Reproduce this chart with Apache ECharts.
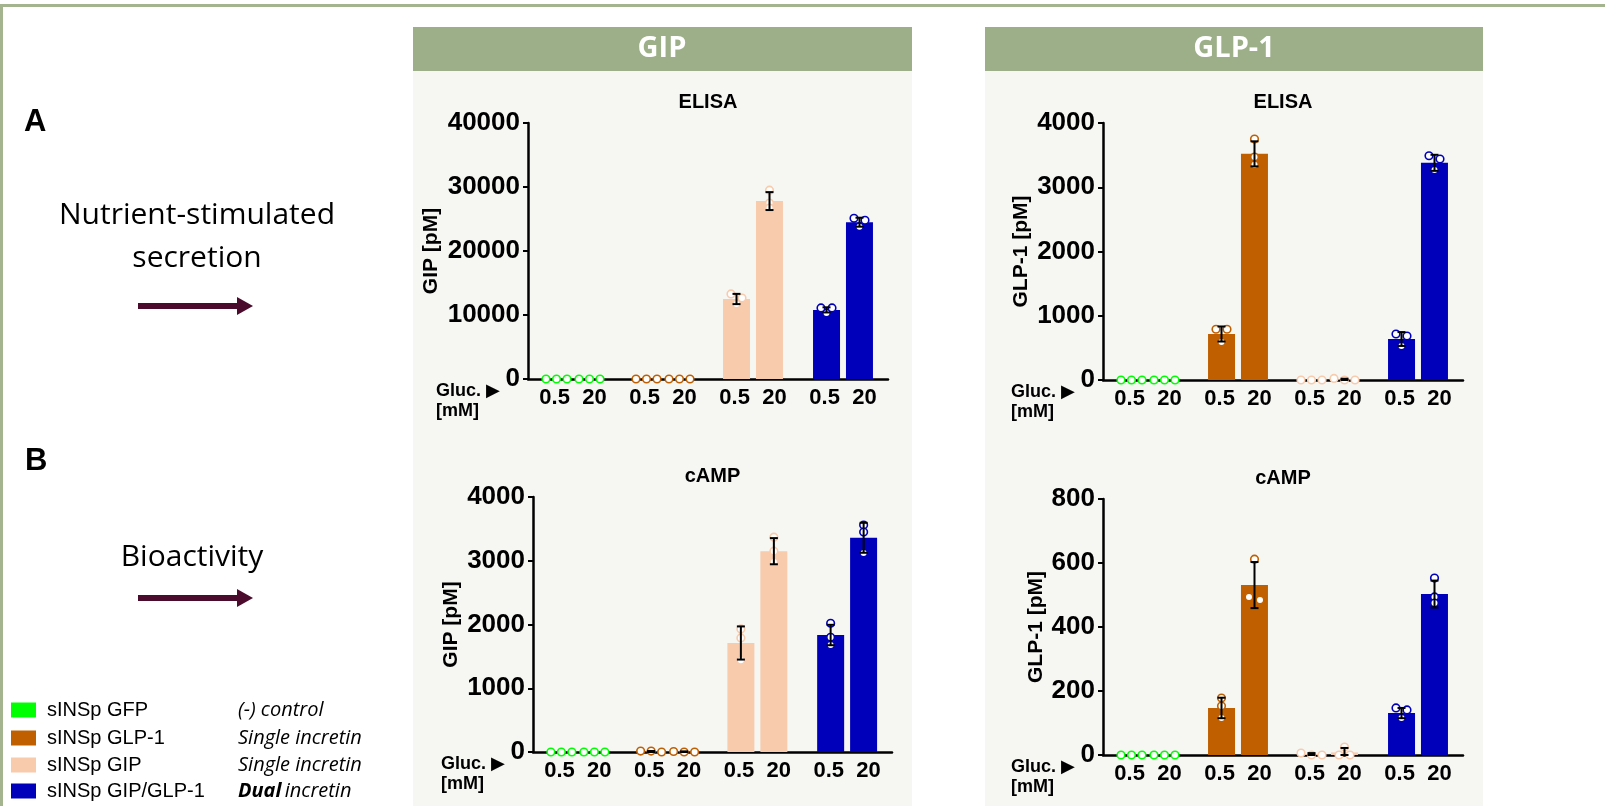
<!DOCTYPE html>
<html>
<head>
<meta charset="utf-8">
<title>GIP / GLP-1 secretion and bioactivity</title>
<script src="https://cdn.jsdelivr.net/npm/echarts@6/dist/echarts.min.js"></script>
<style>
  html, body { margin: 0; padding: 0; background: #fff; }
  #main { width: 1605px; height: 806px; }
</style>
</head>
<body>
<div id="main"></div>
<script>
// groups (constructs) and glucose levels
var groupNames = ['sINSp GFP', 'sINSp GLP-1', 'sINSp GIP', 'sINSp GIP/GLP-1'];
var groupNotes = ['(-) control', 'Single incretin', 'Single incretin', 'Dual incretin'];
var glucoseLevels = ['0.5', '20'];

// A - ELISA, GIP [pM]
var gipElisaMean05 = [0, 0, 12500, 10800];
var gipElisaMean20 = [0, 0, 27800, 24500];
var gipElisaSd05 = [0, 0, 800, 400];
var gipElisaSd20 = [0, 0, 1400, 700];
var gipElisaPts05 = [[0, 0, 0], [0, 0, 0], [13300, 12650, 11700], [10300, 11100, 11100]];
var gipElisaPts20 = [[0, 0, 0], [0, 0, 0], [29500, 27500, 26700], [25100, 24800, 23800]];

// A - ELISA, GLP-1 [pM]
var glpElisaMean05 = [0, 716, 0, 638];
var glpElisaMean20 = [0, 3520, 8, 3380];
var glpElisaSd05 = [0, 117, 0, 108];
var glpElisaSd20 = [0, 195, 12, 125];
var glpElisaPts05 = [[0, 0, 0], [790, 790, 590], [0, 0, 0], [716, 685, 530]];
var glpElisaPts20 = [[0, 0, 0], [3750, 3470, 3350], [0, 25, 0], [3490, 3440, 3270]];

// B - cAMP, GIP [pM]
var gipCampMean05 = [0, 8, 1710, 1835];
var gipCampMean20 = [0, 5, 3150, 3360];
var gipCampSd05 = [0, 8, 260, 160];
var gipCampSd20 = [0, 5, 205, 235];
var gipCampPts05 = [[0, 0, 0], [0, 15, 15], [1930, 1790, 1440], [2020, 1800, 1680]];
var gipCampPts20 = [[0, 0, 0], [0, 8, 0], [3370, 3150, 2980], [3560, 3450, 3120]];

// B - cAMP, GLP-1 [pM]
var glpCampMean05 = [0, 147, 3, 131];
var glpCampMean20 = [0, 531, 8, 503];
var glpCampSd05 = [0, 32, 3, 16];
var glpCampSd20 = [0, 72, 14, 42];
var glpCampPts05 = [[0, 0, 0], [178, 153, 116], [0, 6, 0], [147, 141, 116]];
var glpCampPts20 = [[0, 0, 0], [612, 484, 494], [0, 25, 0], [553, 494, 475]];

var groupColors = ['#00ff00', '#c05f00', '#f8cbad', '#0000bb'];

var charts = [
  { title: 'ELISA', yName: 'GIP [pM]', max: 40000, interval: 10000, nameGap: 86,
    grid: { left: 528, top: 123, width: 360, height: 256 },
    mean: [gipElisaMean05, gipElisaMean20], sd: [gipElisaSd05, gipElisaSd20], pts: [gipElisaPts05, gipElisaPts20] },
  { title: 'ELISA', yName: 'GLP-1 [pM]', max: 4000, interval: 1000, nameGap: 71,
    grid: { left: 1103, top: 123, width: 360, height: 257 },
    mean: [glpElisaMean05, glpElisaMean20], sd: [glpElisaSd05, glpElisaSd20], pts: [glpElisaPts05, glpElisaPts20] },
  { title: 'cAMP', yName: 'GIP [pM]', max: 4000, interval: 1000, nameGap: 71,
    grid: { left: 533, top: 497, width: 359, height: 255 },
    mean: [gipCampMean05, gipCampMean20], sd: [gipCampSd05, gipCampSd20], pts: [gipCampPts05, gipCampPts20] },
  { title: 'cAMP', yName: 'GLP-1 [pM]', max: 800, interval: 200, nameGap: 56,
    grid: { left: 1103, top: 499, width: 360, height: 256 },
    mean: [glpCampMean05, glpCampMean20], sd: [glpCampSd05, glpCampSd20], pts: [glpCampPts05, glpCampPts20] }
];

var FONT = '"Liberation Sans", Arial, sans-serif';
var BAR_W = 27, BAR_OFF = 16.5;

// spread points sideways when they sit on top of each other
function jitter(ys) {
  var idx = [0, 1, 2].sort(function (a, b) { return ys[a] - ys[b]; });
  var offs = [0, 0, 0];
  var clusters = [[idx[0]]];
  for (var i = 1; i < idx.length; i++) {
    var last = clusters[clusters.length - 1];
    if (Math.abs(ys[idx[i]] - ys[last[last.length - 1]]) < 5) last.push(idx[i]);
    else clusters.push([idx[i]]);
  }
  clusters.forEach(function (c) {
    var pat = c.length === 3 ? [-10.5, 0, 10.5] : c.length === 2 ? [-5.5, 5.5] : [0];
    c.forEach(function (k, j) { offs[k] = pat[j]; });
  });
  return offs;
}

function renderPoints(params, api) {
  var g = api.value(0), b = api.value(1), mean = api.value(2), sd = api.value(3);
  var x = api.coord([g, 0])[0] + (b === 0 ? -BAR_OFF : BAR_OFF);
  var vals = [api.value(4), api.value(5), api.value(6)];
  var ys = vals.map(function (v) { return api.coord([g, v])[1]; });
  var offs = jitter(ys);
  var children = [];
  ys.forEach(function (y, i) {
    children.push({ type: 'circle', shape: { cx: x + offs[i], cy: y, r: 3.8 },
      style: { fill: '#fff', stroke: groupColors[g], lineWidth: 1.6 } });
  });
  if (sd > 0) {
    var yt = api.coord([g, mean + sd])[1];
    var yb = api.coord([g, Math.max(mean - sd, 0)])[1];
    var st = { stroke: '#000', lineWidth: 2 };
    children.push({ type: 'line', shape: { x1: x, y1: yt, x2: x, y2: yb }, style: st });
    children.push({ type: 'line', shape: { x1: x - 4, y1: yt, x2: x + 4, y2: yt }, style: st });
    children.push({ type: 'line', shape: { x1: x - 4, y1: yb, x2: x + 4, y2: yb }, style: st });
  }
  return { type: 'group', children: children };
}

var grids = [], xAxes = [], yAxes = [], series = [], graphics = [];

// panel backgrounds and headers
graphics.push(
  { type: 'rect', z: -10, shape: { x: 0, y: 4, width: 1605, height: 3 }, style: { fill: '#a4b48f' } },
  { type: 'rect', z: -10, shape: { x: 0, y: 4, width: 3, height: 802 }, style: { fill: '#a4b48f' } },
  { type: 'rect', z: -10, shape: { x: 413, y: 71, width: 499, height: 735 }, style: { fill: '#f6f7f3' } },
  { type: 'rect', z: -10, shape: { x: 985, y: 71, width: 498, height: 735 }, style: { fill: '#f6f7f3' } },
  { type: 'rect', z: -10, shape: { x: 413, y: 27, width: 499, height: 44 }, style: { fill: '#9daf88' } },
  { type: 'rect', z: -10, shape: { x: 985, y: 27, width: 498, height: 44 }, style: { fill: '#9daf88' } },
  { type: 'text', x: 662, y: 49, style: { text: 'GIP', fill: '#fff', font: 'bold 29px "Open Sans", sans-serif', textAlign: 'center', textVerticalAlign: 'middle' } },
  { type: 'text', x: 1234, y: 49, style: { text: 'GLP-1', fill: '#fff', font: 'bold 29px "Open Sans", sans-serif', textAlign: 'center', textVerticalAlign: 'middle' } }
);

// left side labels
var sideFont = '30px "Open Sans", sans-serif';
graphics.push(
  { type: 'text', x: 24, y: 122, style: { text: 'A', fill: '#000', font: 'bold 31px ' + FONT, textVerticalAlign: 'middle' } },
  { type: 'text', x: 197, y: 215, style: { text: 'Nutrient-stimulated', fill: '#000', font: sideFont, textAlign: 'center', textVerticalAlign: 'middle' } },
  { type: 'text', x: 197, y: 258, style: { text: 'secretion', fill: '#000', font: sideFont, textAlign: 'center', textVerticalAlign: 'middle' } },
  { type: 'text', x: 25, y: 461, style: { text: 'B', fill: '#000', font: 'bold 31px ' + FONT, textVerticalAlign: 'middle' } },
  { type: 'text', x: 192, y: 557, style: { text: 'Bioactivity', fill: '#000', font: sideFont, textAlign: 'center', textVerticalAlign: 'middle' } }
);
[306, 598].forEach(function (ay) {
  graphics.push(
    { type: 'rect', shape: { x: 138, y: ay - 3, width: 100, height: 6 }, style: { fill: '#4a0b2c' } },
    { type: 'polygon', shape: { points: [[237, ay - 9], [253, ay], [237, ay + 9]] }, style: { fill: '#4a0b2c' } }
  );
});

// legend
var legendRows = [710, 738, 765, 791];
groupNames.forEach(function (name, i) {
  var y = legendRows[i];
  graphics.push(
    { type: 'rect', shape: { x: 11, y: y - 7.5, width: 25, height: 15 }, style: { fill: groupColors[i] } },
    { type: 'text', x: 47, y: y, style: { text: name, fill: '#000', font: '20px ' + FONT, textVerticalAlign: 'middle' } }
  );
  var note = i === 3
    ? { text: '{b|Dual} {i|incretin}', rich: { b: { font: 'italic bold 20px "Open Sans", sans-serif', fill: '#000' }, i: { font: 'italic 20px "Open Sans", sans-serif', fill: '#000' } } }
    : { text: groupNotes[i], font: 'italic 20px "Open Sans", sans-serif' };
  graphics.push({ type: 'text', x: 238, y: y, style: Object.assign({ fill: '#000', textVerticalAlign: 'middle' }, note) });
});

charts.forEach(function (c, k) {
  grids.push(c.grid);
  var gx = c.grid.left, gb = c.grid.top + c.grid.height;
  xAxes.push({
    type: 'category', gridIndex: k, data: groupNames,
    axisLine: { lineStyle: { color: '#000', width: 2.5 } },
    axisTick: { alignWithLabel: true, length: 5, lineStyle: { color: '#000', width: 2 } },
    axisLabel: { formatter: function () { return glucoseLevels.join('  '); },
      color: '#000', fontWeight: 'bold', fontSize: 22, fontFamily: FONT, margin: 8 }
  });
  yAxes.push({
    type: 'value', gridIndex: k, min: 0, max: c.max, interval: c.interval,
    name: c.yName, nameLocation: 'middle', nameGap: c.nameGap, nameRotate: 90,
    nameTextStyle: { color: '#000', fontWeight: 'bold', fontSize: 21, fontFamily: FONT },
    axisLine: { show: true, lineStyle: { color: '#000', width: 2.5 } },
    axisTick: { show: true, length: 5, lineStyle: { color: '#000', width: 2 } },
    axisLabel: { formatter: function (v) { return String(v); },
      color: '#000', fontWeight: 'bold', fontSize: 26, fontFamily: FONT, margin: 8 },
    splitLine: { show: false }
  });
  glucoseLevels.forEach(function (lvl, b) {
    series.push({
      type: 'bar', name: lvl, xAxisIndex: k, yAxisIndex: k,
      barWidth: BAR_W, barGap: '22%',
      data: c.mean[b].map(function (v, g) { return { value: v, itemStyle: { color: groupColors[g] } }; }),
      z: 2
    });
  });
  var pdata = [];
  glucoseLevels.forEach(function (lvl, b) {
    c.mean[b].forEach(function (m, g) {
      pdata.push([g, b, m, c.sd[b][g]].concat(c.pts[b][g]));
    });
  });
  series.push({
    type: 'custom', xAxisIndex: k, yAxisIndex: k, z: 5,
    renderItem: renderPoints, encode: { x: 0, y: 2 }, data: pdata
  });
  // chart title and glucose caption
  graphics.push(
    { type: 'text', x: gx + c.grid.width / 2, y: c.grid.top - 21, style: { text: c.title, fill: '#000', font: 'bold 20px ' + FONT, textAlign: 'center', textVerticalAlign: 'middle' } },
    { type: 'text', x: gx - 92, y: gb + 12, style: { text: 'Gluc. \u25B6', fill: '#000', font: 'bold 18px "Liberation Sans", "DejaVu Sans", sans-serif', textVerticalAlign: 'middle' } },
    { type: 'text', x: gx - 92, y: gb + 32, style: { text: '[mM]', fill: '#000', font: 'bold 18px ' + FONT, textVerticalAlign: 'middle' } }
  );
});

var chart = echarts.init(document.getElementById('main'));
chart.setOption({
  animation: false,
  backgroundColor: '#fff',
  textStyle: { fontFamily: FONT },
  grid: grids,
  xAxis: xAxes,
  yAxis: yAxes,
  series: series,
  graphic: { elements: graphics }
});
</script>
</body>
</html>
